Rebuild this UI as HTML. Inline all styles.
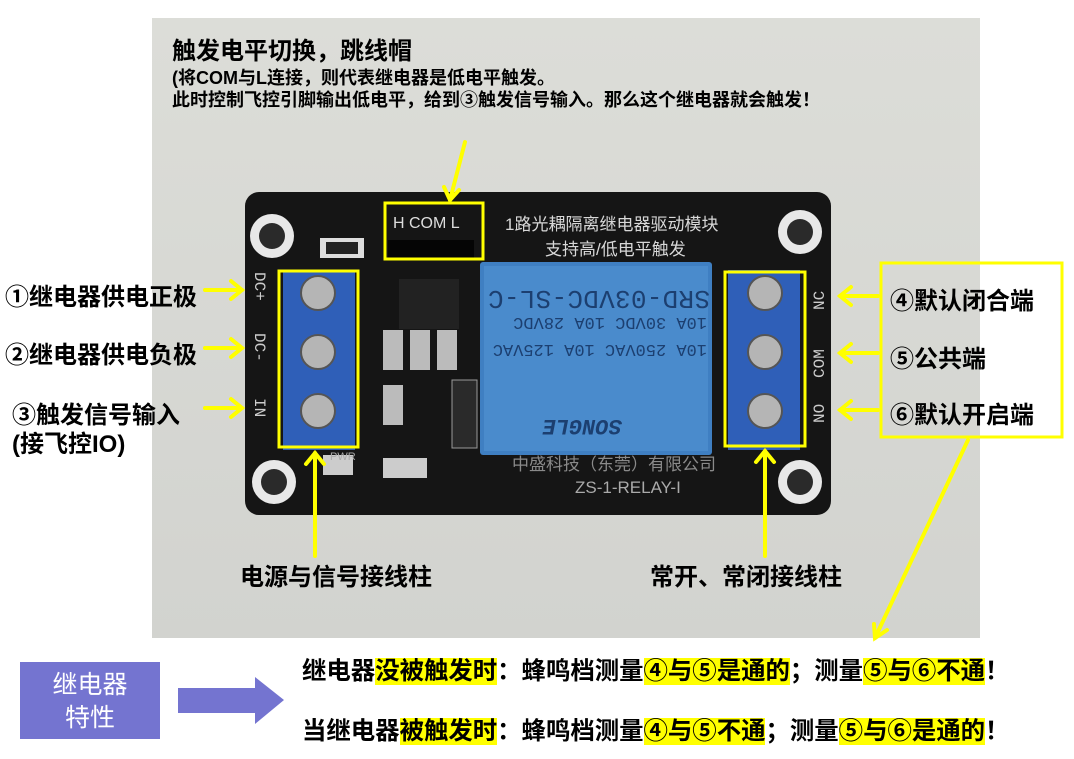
<!DOCTYPE html>
<html><head><meta charset="utf-8"><style>
body{margin:0;width:1074px;height:759px;background:#fff;position:relative;overflow:hidden;font-family:"Liberation Sans","Noto Sans CJK SC",sans-serif}
.t{position:absolute;font-weight:bold;color:#000;white-space:nowrap;font-family:"Liberation Sans","Noto Sans CJK SC",sans-serif}
.hl{background:#ffff00}
</style></head><body>
<svg width="1074" height="759" style="position:absolute;left:0;top:0">
<defs><linearGradient id="bg" x1="0" y1="0" x2="0" y2="1"><stop offset="0" stop-color="#dcddd8"/><stop offset="1" stop-color="#d2d3cf"/></linearGradient></defs>
<rect x="152" y="18" width="828" height="620" fill="url(#bg)"/>
<rect x="245" y="192" width="586" height="323" rx="14" fill="#151515"/>
<g fill="#e8e8e8"><circle cx="272" cy="236" r="22"/><circle cx="800" cy="232" r="22"/><circle cx="274" cy="482" r="22"/><circle cx="800" cy="482" r="22"/></g>
<g fill="#2a2a2a"><circle cx="272" cy="236" r="13"/><circle cx="800" cy="232" r="13"/><circle cx="274" cy="482" r="13"/><circle cx="800" cy="482" r="13"/></g>
<rect x="480" y="262" width="232" height="193" rx="3" fill="#3f7fc2"/>
<rect x="484" y="266" width="224" height="185" fill="#4a8bcc"/>
<rect x="283" y="270" width="72" height="180" fill="#2f5fb8"/>
<rect x="728" y="270" width="72" height="180" fill="#2f5fb8"/>
<g fill="#b5b5b5" stroke="#555" stroke-width="2">
<circle cx="318" cy="293" r="17"/><circle cx="318" cy="352" r="17"/><circle cx="318" cy="411" r="17"/>
<circle cx="765" cy="293" r="17"/><circle cx="765" cy="352" r="17"/><circle cx="765" cy="411" r="17"/></g>
<rect x="399" y="279" width="60" height="50" fill="#222"/>
<rect x="388" y="240" width="86" height="18" fill="#050505"/>
<rect x="320" y="238" width="44" height="20" fill="#ddd"/><rect x="326" y="242" width="32" height="12" fill="#222"/>
<rect x="383" y="330" width="20" height="40" fill="#bbb"/><rect x="410" y="330" width="20" height="40" fill="#bbb"/><rect x="437" y="330" width="20" height="40" fill="#bbb"/>
<rect x="383" y="385" width="20" height="40" fill="#bbb"/><rect x="452" y="380" width="25" height="68" fill="#2a2a2a" stroke="#999"/>
<rect x="383" y="458" width="44" height="20" fill="#ccc"/><rect x="323" y="455" width="30" height="20" fill="#ccc"/>
<g fill="#d8d8d8" font-family="Liberation Sans, Noto Sans CJK SC, sans-serif" font-size="17">
<text x="505" y="230">1路光耦隔离继电器驱动模块</text><text x="545" y="255">支持高/低电平触发</text>
<text x="512" y="470" fill="#8a8a8a">中盛科技（东莞）有限公司</text><text x="575" y="493" fill="#aaa">ZS-1-RELAY-I</text>
<text x="393" y="228" font-size="16" fill="#ddd">H COM L</text>
<text x="330" y="460" font-size="11" fill="#aaa">PWR</text>
</g>
<g fill="#ccc" font-family="Liberation Mono, monospace" font-size="16">
<text transform="translate(255,272) rotate(90)">DC+</text><text transform="translate(255,333) rotate(90)">DC-</text><text transform="translate(255,398) rotate(90)">IN</text>
<text transform="translate(824,310) rotate(-90)">NC</text><text transform="translate(824,378) rotate(-90)">COM</text><text transform="translate(824,423) rotate(-90)">NO</text></g>
<g fill="#1c3f70" font-family="Liberation Mono, monospace" font-size="17" transform="rotate(180 596 358)">
<text x="482" y="425" font-size="26" textLength="222">SRD-03VDC-SL-C</text><text x="485" y="398">10A 30VDC 10A 28VDC</text><text x="485" y="371">10A 250VAC 10A 125VAC</text><text x="570" y="296" font-size="22" font-style="italic" font-weight="bold">SONGLE</text></g>
<g fill="none" stroke="#ffff00" stroke-width="3">
<rect x="279" y="271" width="79" height="176"/><rect x="725" y="272" width="80" height="174"/>
<rect x="385" y="203" width="98" height="56"/><rect x="881" y="263" width="181" height="174"/></g>
<g stroke="#ffff00" stroke-width="4" fill="none" stroke-linecap="round">
<line x1="205" y1="290" x2="242" y2="290"/><polyline points="231,281 242,290 231,299"/>
<line x1="205" y1="348" x2="242" y2="348"/><polyline points="231,339 242,348 231,357"/>
<line x1="205" y1="408" x2="242" y2="408"/><polyline points="231,399 242,408 231,417"/>
<line x1="840" y1="296" x2="878" y2="296"/><polyline points="851,287 840,296 851,305"/>
<line x1="840" y1="353" x2="878" y2="353"/><polyline points="851,344 840,353 851,362"/>
<line x1="840" y1="410" x2="878" y2="410"/><polyline points="851,401 840,410 851,419"/>
<line x1="315" y1="556" x2="315" y2="453"/><polyline points="306,464 315,453 324,464"/>
<line x1="765" y1="556" x2="765" y2="451"/><polyline points="756,462 765,451 774,462"/>
<line x1="465" y1="142" x2="450" y2="200"/><polyline points="444,187 450,200 459,190"/>
<line x1="968" y1="440" x2="875" y2="638"/><polyline points="874,624 875,638 887,630"/>
</g>
<rect x="20" y="662" width="140" height="77" fill="#7474d0"/>
<polygon points="178,688 255,688 255,677 284,700 255,724 255,713 178,713" fill="#7474d0"/>
<text x="90" y="693" text-anchor="middle" font-size="25" fill="#fff" font-family="Liberation Sans, Noto Sans CJK SC, sans-serif">继电器</text>
<text x="90" y="726" text-anchor="middle" font-size="25" fill="#fff" font-family="Liberation Sans, Noto Sans CJK SC, sans-serif">特性</text>
</svg>
<div class="t" style="left:172px;top:31px;font-size:24px">触发电平切换，跳线帽</div>
<div class="t" style="left:172px;top:64px;font-size:18px">(将COM与L连接，则代表继电器是低电平触发。</div>
<div class="t" style="left:172px;top:86px;font-size:18px">此时控制飞控引脚输出低电平，给到③触发信号输入。那么这个继电器就会触发！</div>
<div class="t" style="left:5px;top:277px;font-size:24px">①继电器供电正极</div>
<div class="t" style="left:5px;top:335px;font-size:24px">②继电器供电负极</div>
<div class="t" style="left:12px;top:395px;font-size:24px">③触发信号输入</div>
<div class="t" style="left:12px;top:424px;font-size:24px">(接飞控IO)</div>
<div class="t" style="left:890px;top:281px;font-size:24px">④默认闭合端</div>
<div class="t" style="left:890px;top:339px;font-size:24px">⑤公共端</div>
<div class="t" style="left:890px;top:395px;font-size:24px">⑥默认开启端</div>
<div class="t" style="left:240px;top:557px;font-size:24px">电源与信号接线柱</div>
<div class="t" style="left:650px;top:557px;font-size:24px">常开、常闭接线柱</div>
<div class="t" style="left:302px;top:656px;font-size:24.4px;line-height:32px">继电器<span class="hl">没被触发时</span>：蜂鸣档测量<span class="hl">④与⑤是通的</span>；测量<span class="hl">⑤与⑥不通</span>！</div>
<div class="t" style="left:302px;top:716px;font-size:24.4px;line-height:32px">当继电器<span class="hl">被触发时</span>：蜂鸣档测量<span class="hl">④与⑤不通</span>；测量<span class="hl">⑤与⑥是通的</span>！</div>
</body></html>
